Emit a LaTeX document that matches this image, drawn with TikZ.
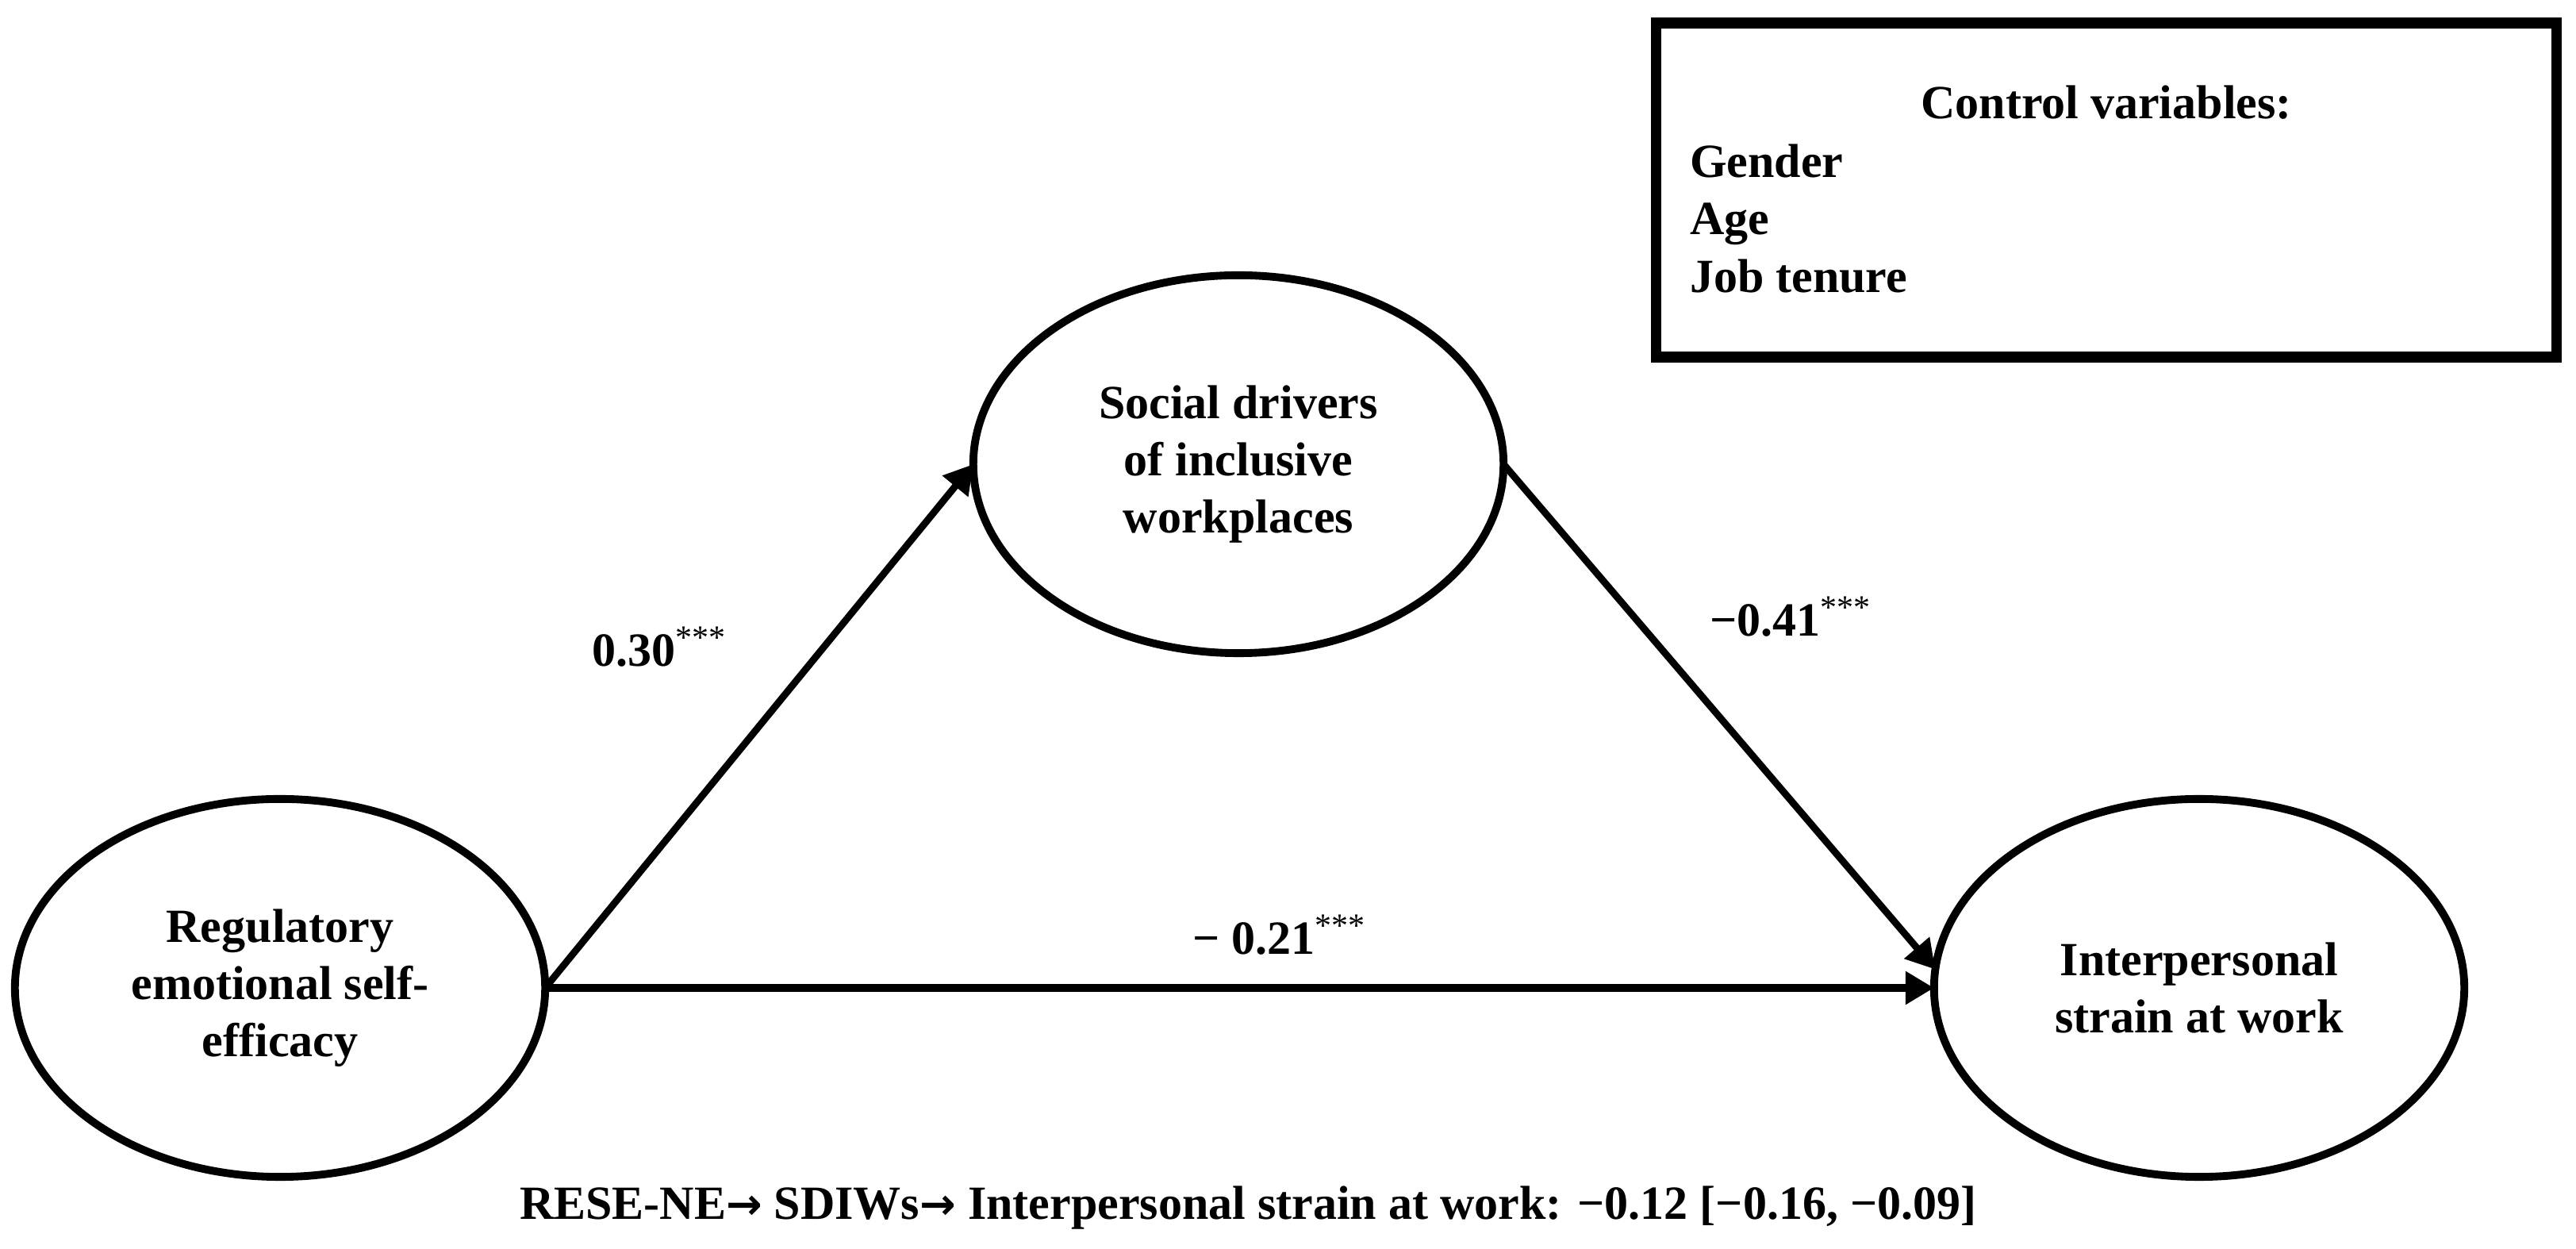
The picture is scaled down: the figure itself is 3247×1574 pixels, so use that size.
\documentclass[tikz,border=0pt]{standalone}
\usepackage{fontspec}
\setmainfont{Liberation Serif}
\newfontfamily\arrowfont{DejaVu Sans}
\newcommand{\myarrow}{{\arrowfont\fontsize{15.5pt}{20.5pt}\selectfont\bfseries →}}
\usetikzlibrary{shapes.geometric,arrows.meta}
\begin{document}
\begin{tikzpicture}[x=0.01cm,y=-0.01cm,
  every node/.style={font=\fontsize{17.07pt}{20.5pt}\selectfont\bfseries, inner sep=0pt, outer sep=0pt},
  construct/.style={draw, ellipse, line width=2.8pt, minimum width=6.68cm, minimum height=4.76cm, align=center},
  effect/.style={line width=2.5pt, -{Triangle[length=0.36cm,width=0.4cm]}},
  lbl/.style={anchor=base west},
  ctrlbox/.style={draw, rectangle, line width=3.8pt, minimum width=11.34cm, minimum height=4.21cm}]
\useasboundingbox (0,0) rectangle (3247,1574);

% constructs
\node[construct] (rese) at (353,1245) {Regulatory\\emotional self-\\efficacy};
\node[construct] (sdiw) at (1561,585) {Social drivers\\of inclusive\\workplaces};
\node[construct] (strain) at (2772,1245) {Interpersonal\\strain at work};

% control variables box
\node[ctrlbox] (ctrl) at (2655,239.5) {};
\node[anchor=base] (ctitle) at (2655,150) {Control variables:};
\node[lbl] (cgender) at (2130,224) {Gender};
\node[lbl] (cage) at (2130,296) {Age};
\node[lbl] (cjob) at (2130,369) {Job tenure};

% paths
\draw[effect] (rese.east) -- (sdiw.west);
\draw[effect] (sdiw.east) -- (strain.176);
\draw[effect, line width=2.9pt] (rese.east) -- (strain.west);

% coefficients
\node[lbl] (a) at (746,840) {0.30\textsuperscript{\mdseries ***}};
\node[lbl] (b) at (2155,802) {−0.41\textsuperscript{\mdseries ***}};
\node[lbl] (c) at (1503,1203) {− 0.21\textsuperscript{\mdseries ***}};

% indirect effect
\node[lbl] (ind) at (655,1537) {RESE-NE\myarrow{} SDIWs\myarrow{} Interpersonal strain at work: −0.12 [−0.16, −0.09]};
\end{tikzpicture}
\end{document}
